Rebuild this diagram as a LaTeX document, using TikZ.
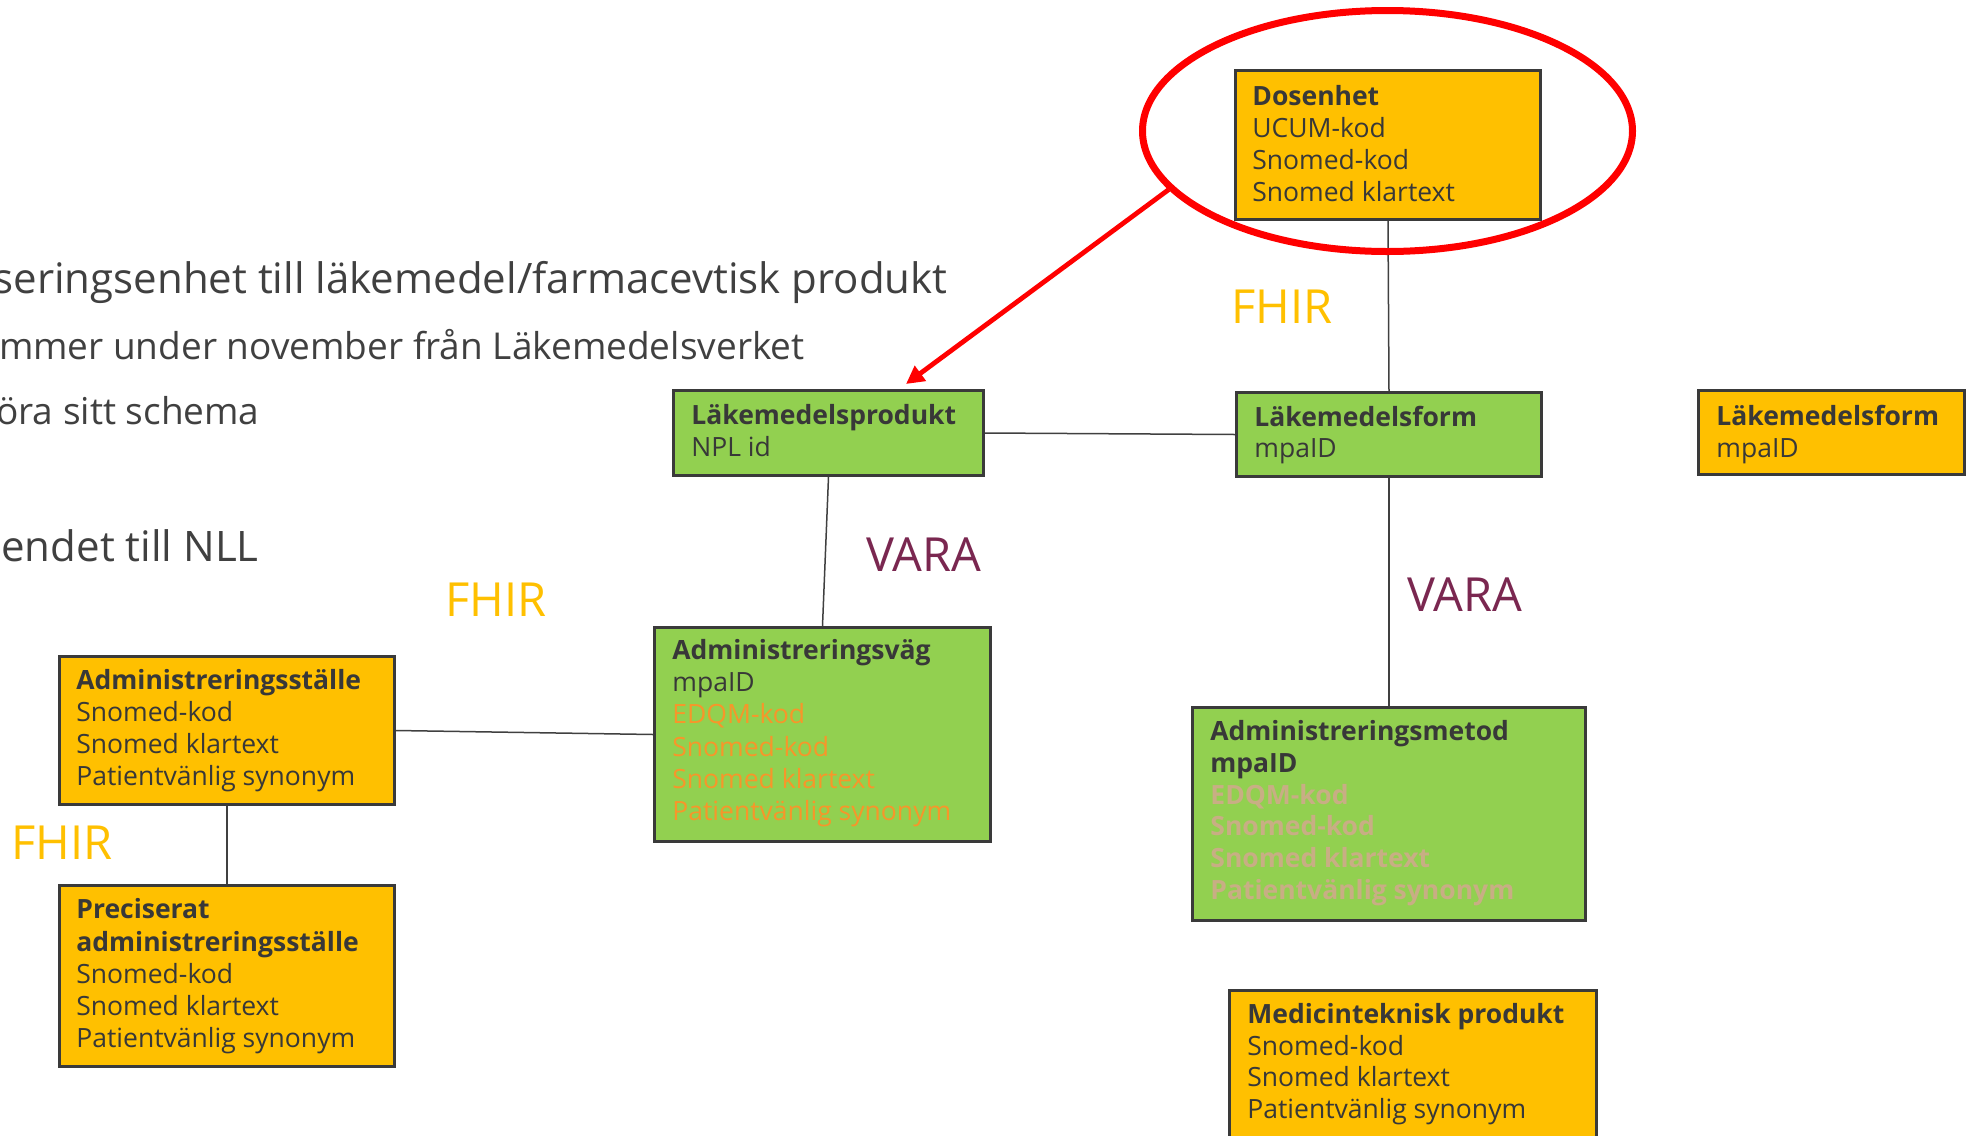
\documentclass[tikz,border=0pt]{standalone}
\usepackage{fontspec}
\setmainfont{Open Sans}
\usetikzlibrary{shapes.geometric,arrows.meta,calc}

\definecolor{boxline}{HTML}{3A3A3A}
\definecolor{txt}{HTML}{383838}
\definecolor{amber}{HTML}{FFC000}
\definecolor{leaf}{HTML}{92D050}
\definecolor{wine}{HTML}{7A2750}
\definecolor{tangerine}{HTML}{F7962A}
\definecolor{sand}{HTML}{C8AE84}
\definecolor{slate}{HTML}{404040}

% strut that fixes the height of a card's first line
\newcommand\cardstrut{\rule{0pt}{14pt}}

\tikzset{
  card/.style={draw=boxline, line width=1.5pt, inner sep=0pt, anchor=north west},
  yellowcard/.style={card, fill=amber},
  greencard/.style={card, fill=leaf},
  cardtext/.style={anchor=north west, inner sep=0pt, align=left, text=txt,
                   font=\fontsize{13.25}{#1}\selectfont},
  cardtext/.default=16,
  link/.style={draw=slate, line width=0.75pt},
  tag/.style={anchor=base west, inner sep=0pt, font=\fontsize{23.5}{28}\selectfont},
  lead/.style={anchor=base east, inner sep=0pt, text=slate, font=\fontsize{#1}{24}\selectfont},
  lead/.default=21,
}

\begin{document}
\begin{tikzpicture}[x=0.5pt, y=-0.5pt]
\clip (0,0) rectangle (1967,1136);
\fill[white] (0,0) rectangle (1967,1136);

% running text on the left
\node[lead] (l1) at (948,293) {seringsenhet till läkemedel/farmacevtisk produkt};
\node[lead=18.5] (l2) at (805,359) {mmer under november från Läkemedelsverket};
\node[lead=18.5] (l3) at (260,424) {öra sitt schema};
\node[lead] (l4) at (259,561) {endet till NLL};

% cards
\node[yellowcard, minimum width=152.5pt, minimum height=74.5pt] (dos) at (1234,69) {};
\node[cardtext] (dos-t) at (1252,77) {\textbf{\cardstrut Dosenhet}\\UCUM-kod\\Snomed-kod\\Snomed klartext};

\node[greencard, minimum width=155pt, minimum height=42.5pt] (prod) at (672,389) {};
\node[cardtext] (prod-t) at (691,396) {\textbf{\cardstrut Läkemedelsprodukt}\\NPL id};

\node[greencard, minimum width=152.5pt, minimum height=42pt] (form) at (1235,391) {};
\node[cardtext=15.5] (form-t) at (1254,398) {\textbf{\cardstrut Läkemedelsform}\\mpaID};

\node[yellowcard, minimum width=133pt, minimum height=42pt] (form2) at (1697,389) {};
\node[cardtext] (form2-t) at (1716,397) {\textbf{\cardstrut Läkemedelsform}\\mpaID};

\node[greencard, minimum width=168pt, minimum height=107pt] (route) at (653,626) {};
\node[cardtext=16.1] (route-t) at (672,631) {\textbf{\cardstrut Administreringsväg}\\mpaID\\
  \textcolor{tangerine}{EDQM-kod}\\\textcolor{tangerine}{Snomed-kod}\\
  \textcolor{tangerine}{Snomed klartext}\\\textcolor{tangerine}{Patientvänlig synonym}};

\node[greencard, minimum width=196.5pt, minimum height=106.5pt] (method) at (1191,706) {};
\node[cardtext=15.9] (method-t) at (1210,712) {\textbf{\cardstrut Administreringsmetod}\\\textbf{mpaID}\\
  \textbf{\textcolor{sand}{EDQM-kod}}\\\textbf{\textcolor{sand}{Snomed-kod}}\\
  \textbf{\textcolor{sand}{Snomed klartext}}\\\textbf{\textcolor{sand}{Patientvänlig synonym}}};

\node[yellowcard, minimum width=167.5pt, minimum height=74pt] (site) at (58,655) {};
\node[cardtext=16] (site-t) at (76,661) {\textbf{\cardstrut Administreringsställe}\\Snomed-kod\\Snomed klartext\\Patientvänlig synonym};

\node[yellowcard, minimum width=167.5pt, minimum height=90.5pt] (exact) at (58,884) {};
\node[cardtext=16.05] (exact-t) at (76,890.5) {\textbf{\cardstrut Preciserat}\\\textbf{administreringsställe}\\Snomed-kod\\Snomed klartext\\Patientvänlig synonym};

\node[yellowcard, minimum width=183.5pt, minimum height=85pt] (device) at (1228,989) {};
\node[cardtext=15.85] (device-t) at (1247,995) {\textbf{\cardstrut Medicinteknisk produkt}\\Snomed-kod\\Snomed klartext\\Patientvänlig synonym};

% connectors between cards
\draw[link] (dos.south) -- (form.north);
\draw[link] (prod.east) -- (form.west);
\draw[link] (prod.south) -- (route.north);
\draw[link] (form.south) -- (method.north);
\draw[link] (site.east) -- (route.west);
\draw[link] (site.south) -- (exact.north);

% relation labels
\node[tag, text=amber] (fhir1) at (1231,323) {FHIR};
\node[tag, text=amber] (fhir2) at (445,616) {FHIR};
\node[tag, text=amber] (fhir3) at (11,859) {FHIR};
\node[tag, text=wine] (vara1) at (866,571) {VARA};
\node[tag, text=wine] (vara2) at (1407,611) {VARA};

% highlight ring and pointer
\node[ellipse, draw=red, line width=3.5pt, inner sep=0pt,
      minimum width=245pt, minimum height=120.5pt] (ring) at (1387.5,131) {};
\coordinate (tip) at (906,384);
\draw[red, line width=2.4pt, -{Triangle[length=9pt,width=9pt]}] (ring.195) -- (tip);
\end{tikzpicture}
\end{document}
